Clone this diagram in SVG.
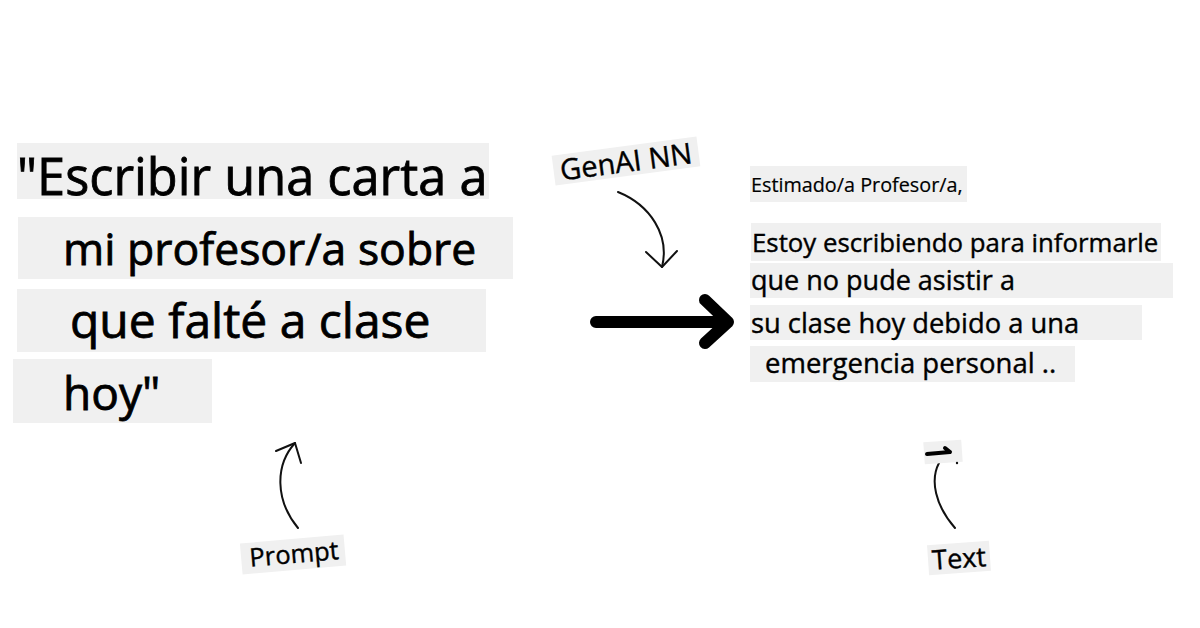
<svg xmlns="http://www.w3.org/2000/svg" width="1200" height="628" viewBox="0 0 1200 628">
<style>
.bg{fill:#f0f0f0}
.t{font-family:"Open Sans","Noto Sans",sans-serif;fill:#000;stroke:#000;stroke-width:0.4}
.tb{stroke-width:0.8}
.thin{fill:none;stroke:#111;stroke-width:2;stroke-linecap:round;stroke-linejoin:round}
.thick{fill:none;stroke:#000;stroke-width:12;stroke-linecap:round;stroke-linejoin:round}
</style>
<rect width="1200" height="628" fill="#fff"/>
<g id="prompt-text">
<rect class="bg" x="17" y="143" width="472" height="56"/>
<text class="t tb" style="font-size:50.5px" x="17" y="195">"Escribir una carta a</text>
<rect class="bg" x="18" y="217" width="495" height="62"/>
<text class="t tb" style="font-size:44.5px" x="63" y="265">mi profesor/a sobre</text>
<rect class="bg" x="17" y="289" width="469" height="63"/>
<text class="t tb" style="font-size:48px" x="70" y="338">que falté a clase</text>
<rect class="bg" x="13" y="359" width="199" height="64"/>
<text class="t tb" style="font-size:46px" x="63" y="410">hoy"</text>
</g>
<g id="genai-label" transform="rotate(-7.5 626 161)">
<rect class="bg" x="553" y="146" width="146" height="30"/>
<text class="t" style="font-size:29px" x="626" y="172" text-anchor="middle">GenAI NN</text>
</g>
<g id="output-text">
<rect class="bg" x="750" y="166" width="217" height="36"/>
<text class="t" style="font-size:19.8px;stroke-width:0.2" x="751" y="192">Estimado/a Profesor/a,</text>
<rect class="bg" x="751" y="223" width="410" height="38"/>
<text class="t" style="font-size:25.8px" x="752" y="252">Estoy escribiendo para informarle</text>
<rect class="bg" x="750" y="263" width="423" height="35"/>
<text class="t" style="font-size:27px" x="751" y="290">que no pude asistir a</text>
<rect class="bg" x="750" y="305" width="392" height="35"/>
<text class="t" style="font-size:27.3px" x="751" y="333">su clase hoy debido a una</text>
<rect class="bg" x="750" y="346" width="325" height="36"/>
<text class="t" style="font-size:27.5px" x="765" y="373">emergencia personal ..</text>
</g>
<g id="prompt-label" transform="rotate(-5 293 554)">
<rect class="bg" x="241" y="539" width="104" height="31"/>
<text class="t" style="font-size:25.5px" x="294" y="563" text-anchor="middle">Prompt</text>
</g>
<g id="text-label" transform="rotate(-4 959 558)">
<rect class="bg" x="928" y="543" width="62" height="30"/>
<text class="t" style="font-size:27px" x="959" y="568" text-anchor="middle">Text</text>
</g>
<g id="connectors">
<path class="thin" d="M618,192 C650,205 670,235 662,267"/>
<path class="thin" d="M646,252 L662,267 L677,251"/>
<path class="thick" d="M596,322 L728,322 M705,300 L728,322 L705,343"/>
<path class="thin" d="M298,528 C275,500 275,465 295,443"/>
<path class="thin" d="M276,451 L295,443 L301,463"/>
<path class="thin" d="M955,528 C935,505 930,480 939,463"/>
<rect class="bg" x="924" y="441" width="38" height="22" transform="rotate(-4 943 452)"/>
<path fill="none" stroke="#000" stroke-width="4" stroke-linecap="round" d="M927,454 L950,452 M945,448 L950,452"/>
<circle cx="957" cy="463" r="1.2" fill="#111"/>
</g>
</svg>
